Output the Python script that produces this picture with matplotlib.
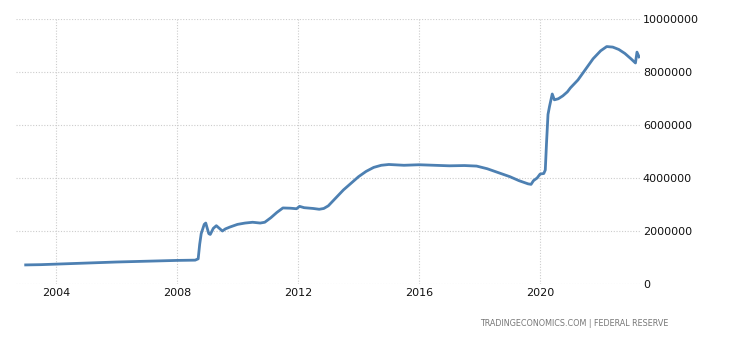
import matplotlib
matplotlib.use("Agg")
import matplotlib.pyplot as plt

dates = [2003.0, 2003.5, 2004.0, 2005.0, 2006.0, 2007.0, 2008.0, 2008.6, 2008.7, 2008.75,
         2008.8, 2008.9, 2008.95, 2009.05, 2009.1, 2009.2, 2009.3, 2009.4, 2009.5, 2009.6,
         2009.75, 2010.0, 2010.25, 2010.5, 2010.75, 2010.9, 2011.1, 2011.3, 2011.5, 2011.75,
         2011.95, 2012.05, 2012.2, 2012.5, 2012.7, 2012.85, 2013.0, 2013.25, 2013.5, 2013.75,
         2014.0, 2014.25, 2014.5, 2014.75, 2015.0, 2015.5, 2016.0, 2016.5, 2017.0, 2017.5,
         2017.9, 2018.25, 2018.5, 2019.0, 2019.3, 2019.6, 2019.7, 2019.78, 2019.9, 2020.0,
         2020.12, 2020.17, 2020.21, 2020.26, 2020.31, 2020.4, 2020.47, 2020.6, 2020.75, 2020.9,
         2021.0, 2021.25, 2021.5, 2021.75, 2022.0, 2022.2, 2022.4, 2022.6, 2022.8, 2023.0,
         2023.15, 2023.2, 2023.27]
values = [720000, 730000, 750000, 790000, 830000, 860000, 890000, 900000, 950000, 1500000,
          1900000, 2250000, 2300000, 1900000, 1870000, 2100000, 2200000, 2100000, 2000000, 2080000,
          2150000, 2250000, 2300000, 2330000, 2300000, 2330000, 2500000, 2700000, 2870000, 2860000,
          2840000, 2930000, 2880000, 2850000, 2820000, 2850000, 2950000, 3250000, 3550000, 3800000,
          4050000, 4250000, 4400000, 4480000, 4510000, 4480000, 4500000, 4480000, 4460000, 4470000,
          4450000, 4350000, 4250000, 4050000, 3900000, 3780000, 3760000, 3900000, 4000000, 4150000,
          4170000, 4300000, 5300000, 6400000, 6700000, 7170000, 6950000, 6990000, 7100000, 7250000,
          7400000, 7700000, 8100000, 8500000, 8800000, 8960000, 8940000, 8850000, 8700000, 8500000,
          8340000, 8750000, 8570000]

x_ticks = [2004, 2008, 2012, 2016, 2020]
x_labels = ["2004", "2008", "2012", "2016", "2020"]
y_ticks = [0, 2000000, 4000000, 6000000, 8000000, 10000000]
y_labels = ["0", "2000000", "4000000", "6000000", "8000000", "10000000"]

fig = plt.figure(figsize=(7.3, 3.4), dpi=100)
ax = fig.add_axes([16 / 730, (340 - 284) / 340, (640 - 16) / 730, (284 - 19) / 340])
ax.plot(dates, values, color="#4d80b2", linewidth=2.0, solid_joinstyle="round")
ax.set_xlim(2002.68, 2023.3)
ax.set_ylim(0, 10000000)
ax.set_xticks(x_ticks)
ax.set_xticklabels(x_labels)
ax.set_yticks(y_ticks)
ax.set_yticklabels(y_labels)
ax.yaxis.tick_right()
for s in ax.spines.values():
    s.set_visible(False)
ax.tick_params(length=0, labelsize=8, colors="#111111", pad=3)
ax.tick_params(axis="y", pad=2)
ax.grid(True, color="#cccccc", linestyle=(0, (1, 1.5)), linewidth=0.8)
ax.set_axisbelow(True)
fig.text(668 / 730, 1 - 323 / 340, "TRADINGECONOMICS.COM | FEDERAL RESERVE",
         ha="right", va="center", fontsize=5.8, color="#777777")
fig.savefig("out.png", dpi=100)
